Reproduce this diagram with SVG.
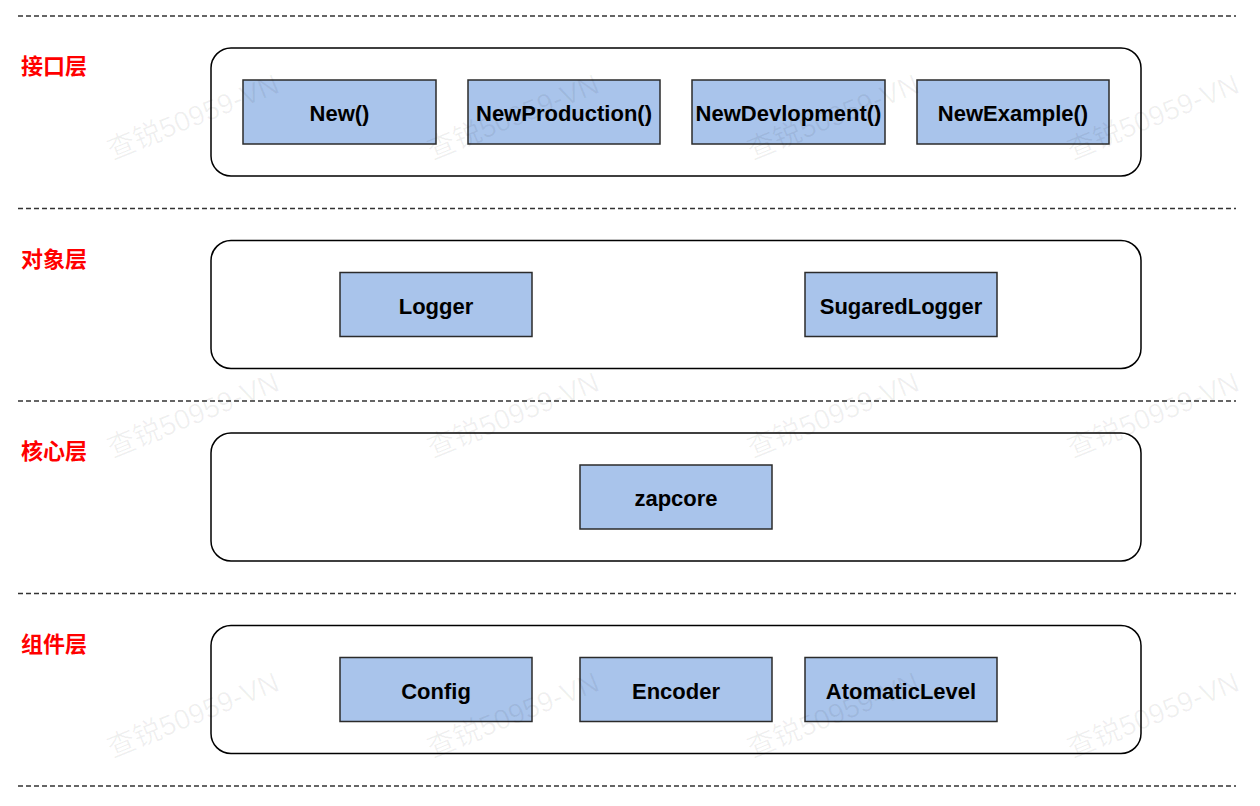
<svg xmlns="http://www.w3.org/2000/svg" width="1260" height="806" viewBox="0 0 1260 806">
<style>
.sep{stroke:#333333;stroke-width:1.5;stroke-dasharray:5 3;fill:none}
.layer{fill:#ffffff;stroke:#000000;stroke-width:1.5}
.box{fill:#a9c4eb;stroke:#2b2b2b;stroke-width:1.5}
.lbl{font-family:"Liberation Sans",Arial,sans-serif;font-weight:bold;font-size:22px;fill:#000000;text-anchor:middle;dominant-baseline:central}
.title{font-family:"Noto Sans CJK SC","Liberation Sans",sans-serif;font-weight:bold;font-size:22px;fill:#ff0000}
.wm{font-family:"Liberation Sans","Noto Sans CJK SC",sans-serif;font-size:28px;fill:#000000;fill-opacity:0.06;text-anchor:middle;dominant-baseline:central}
</style>
<rect width="1260" height="806" fill="#ffffff"/>
<g id="separators">
<line class="sep" x1="18" y1="16" x2="1236" y2="16"/>
<line class="sep" x1="18" y1="208.5" x2="1236" y2="208.5"/>
<line class="sep" x1="18" y1="401" x2="1236" y2="401"/>
<line class="sep" x1="18" y1="593.5" x2="1236" y2="593.5"/>
<line class="sep" x1="18" y1="786" x2="1236" y2="786"/>
</g>
<g id="layer-interface">
<rect class="layer" x="211" y="48" width="930" height="128" rx="20"/>
<text class="title" x="21" y="74">接口层</text>
</g>
<g id="layer-object">
<rect class="layer" x="211" y="240.5" width="930" height="128" rx="20"/>
<text class="title" x="21" y="266.5">对象层</text>
</g>
<g id="layer-core">
<rect class="layer" x="211" y="433" width="930" height="128" rx="20"/>
<text class="title" x="21" y="459">核心层</text>
</g>
<g id="layer-component">
<rect class="layer" x="211" y="625.5" width="930" height="128" rx="20"/>
<text class="title" x="21" y="651.5">组件层</text>
</g>
<g id="node-new"><rect class="box" x="243" y="80" width="193" height="64"/><text class="lbl" x="339.5" y="113">New()</text></g>
<g id="node-newproduction"><rect class="box" x="468" y="80" width="192" height="64"/><text class="lbl" x="564" y="113">NewProduction()</text></g>
<g id="node-newdevlopment"><rect class="box" x="692" y="80" width="193" height="64"/><text class="lbl" x="788.5" y="113">NewDevlopment()</text></g>
<g id="node-newexample"><rect class="box" x="917" y="80" width="192" height="64"/><text class="lbl" x="1013" y="113">NewExample()</text></g>
<g id="node-logger"><rect class="box" x="340" y="272.5" width="192" height="64"/><text class="lbl" x="436" y="306">Logger</text></g>
<g id="node-sugaredlogger"><rect class="box" x="805" y="272.5" width="192" height="64"/><text class="lbl" x="901" y="306">SugaredLogger</text></g>
<g id="node-zapcore"><rect class="box" x="580" y="465" width="192" height="64"/><text class="lbl" x="676" y="498">zapcore</text></g>
<g id="node-config"><rect class="box" x="340" y="657.5" width="192" height="64"/><text class="lbl" x="436" y="691">Config</text></g>
<g id="node-encoder"><rect class="box" x="580" y="657.5" width="192" height="64"/><text class="lbl" x="676" y="691">Encoder</text></g>
<g id="node-atomaticlevel"><rect class="box" x="805" y="657.5" width="192" height="64"/><text class="lbl" x="901" y="691">AtomaticLevel</text></g>
<g id="connectors"></g>
<g id="watermarks">
<text class="wm" transform="translate(193,117) rotate(-22)">查锐50959-VN</text>
<text class="wm" transform="translate(513,117) rotate(-22)">查锐50959-VN</text>
<text class="wm" transform="translate(833,117) rotate(-22)">查锐50959-VN</text>
<text class="wm" transform="translate(1153,117) rotate(-22)">查锐50959-VN</text>
<text class="wm" transform="translate(193,415) rotate(-22)">查锐50959-VN</text>
<text class="wm" transform="translate(513,415) rotate(-22)">查锐50959-VN</text>
<text class="wm" transform="translate(833,415) rotate(-22)">查锐50959-VN</text>
<text class="wm" transform="translate(1153,415) rotate(-22)">查锐50959-VN</text>
<text class="wm" transform="translate(193,715) rotate(-22)">查锐50959-VN</text>
<text class="wm" transform="translate(513,715) rotate(-22)">查锐50959-VN</text>
<text class="wm" transform="translate(833,715) rotate(-22)">查锐50959-VN</text>
<text class="wm" transform="translate(1153,715) rotate(-22)">查锐50959-VN</text>
</g>
</svg>
